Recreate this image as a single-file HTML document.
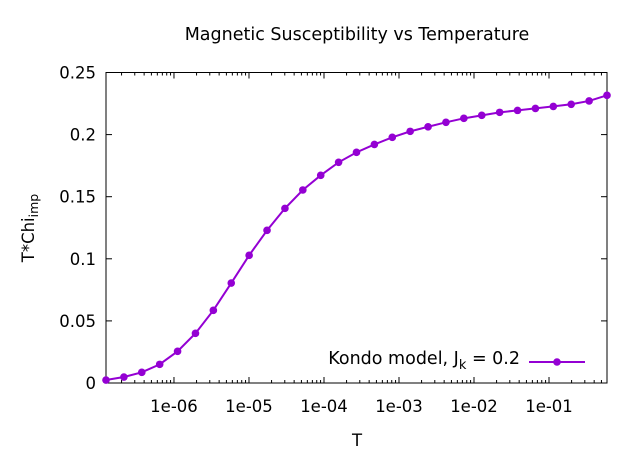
<!DOCTYPE html>
<html><head><meta charset="utf-8"><style>
body{margin:0;background:#fff}
svg{display:block;font-family:"DejaVu Sans","Liberation Sans",sans-serif}
</style></head><body>
<svg id="chart" width="640" height="461" viewBox="0 0 640 461" xmlns="http://www.w3.org/2000/svg">
<rect width="640" height="461" fill="#fff"/>
<text x="357" y="40" font-size="17.5" text-anchor="middle">Magnetic Susceptibility vs Temperature</text>
<text transform="translate(34,228) rotate(-90)" font-size="16.5" text-anchor="middle">T*Chi<tspan font-size="12.5" dy="4">imp</tspan></text>
<text x="357" y="446" font-size="16.5" text-anchor="middle">T</text>
<g id="axes"></g>
<g id="series"></g>
<g>
<text x="520" y="364" font-size="17.5" text-anchor="end">Kondo model, J<tspan font-size="13" dy="5">k</tspan><tspan dy="-5"> = 0.2</tspan></text>
<line x1="529" y1="362" x2="585" y2="362" stroke="#9400d3" stroke-width="2"/>
<circle cx="557" cy="362" r="3.8" fill="#9400d3"/>
</g>
</svg>
<script>
const temps=[];
const chiValues=[0.0024,0.0048,0.0086,0.015,0.0255,0.040,0.0585,0.0805,0.1028,0.1229,0.1406,0.1554,0.1672,0.1777,0.1857,0.1921,0.1978,0.2026,0.2063,0.2099,0.2131,0.2155,0.2179,0.2195,0.2211,0.2227,0.2244,0.2271,0.2316];
const tMax=0.593;
const tRatio=1.732;
const yTicks=[0,0.05,0.1,0.15,0.2,0.25];
const yTickLabels=["0","0.05","0.1","0.15","0.2","0.25"];
const xTickExps=[-6,-5,-4,-3,-2,-1];
const xTickLabels=["1e-06","1e-05","1e-04","1e-03","1e-02","1e-01"];
for(let i=chiValues.length-1;i>=0;i--){temps[i]=tMax/Math.pow(tRatio,chiValues.length-1-i);}
const L=106,R=607,T=72.5,B=383;
const xMinL=Math.log10(temps[0]),xMaxL=Math.log10(tMax);
const xs=v=>L+(Math.log10(v)-xMinL)/(xMaxL-xMinL)*(R-L);
const ys=v=>B-(v/0.25)*(B-T);
const NS="http://www.w3.org/2000/svg";
const axes=document.getElementById('axes'),ser=document.getElementById('series');
function mk(tag,attrs,parent){const e=document.createElementNS(NS,tag);for(const k in attrs)e.setAttribute(k,attrs[k]);parent.appendChild(e);return e;}
const frame=mk('rect',{x:L,y:T,width:R-L,height:B-T,fill:'none',stroke:'#000','stroke-width':1},axes);


yTicks.forEach((v,i)=>{const y=ys(v);
 const t1=mk('line',{x1:L,x2:L+6,y1:y,y2:y,stroke:'#000'},axes);
 
 
 const t2=mk('line',{x1:R,x2:R-6,y1:y,y2:y,stroke:'#000'},axes);
 
 
 const tx=mk('text',{x:L-10,y:y+6,'font-size':16.5,'text-anchor':'end'},axes);tx.textContent=yTickLabels[i];
 
 
});
for(let d=-7;d<=0;d++){for(let m=1;m<=9;m++){const v=m*Math.pow(10,d);if(v<temps[0]||v>tMax)continue;
 const x=xs(v),len=m===1?6:3;
 const a=mk('line',{x1:x,x2:x,y1:B,y2:B-len,stroke:'#000'},axes);
 
 
 const b=mk('line',{x1:x,x2:x,y1:T,y2:T+len,stroke:'#000'},axes);
 
 
}}
xTickExps.forEach((e,i)=>{const tx=mk('text',{x:xs(Math.pow(10,e)),y:B+29,'font-size':16.5,'text-anchor':'middle'},axes);tx.textContent=xTickLabels[i];
 
 
});
const pl=mk('polyline',{points:chiValues.map((v,i)=>xs(temps[i])+','+ys(v)).join(' '),fill:'none',stroke:'#9400d3','stroke-width':2},ser);


chiValues.forEach((v,i)=>{const c=mk('circle',{cx:xs(temps[i]),cy:ys(v),r:3.8,fill:'#9400d3'},ser);
 
 
});
</script>
</body></html>
